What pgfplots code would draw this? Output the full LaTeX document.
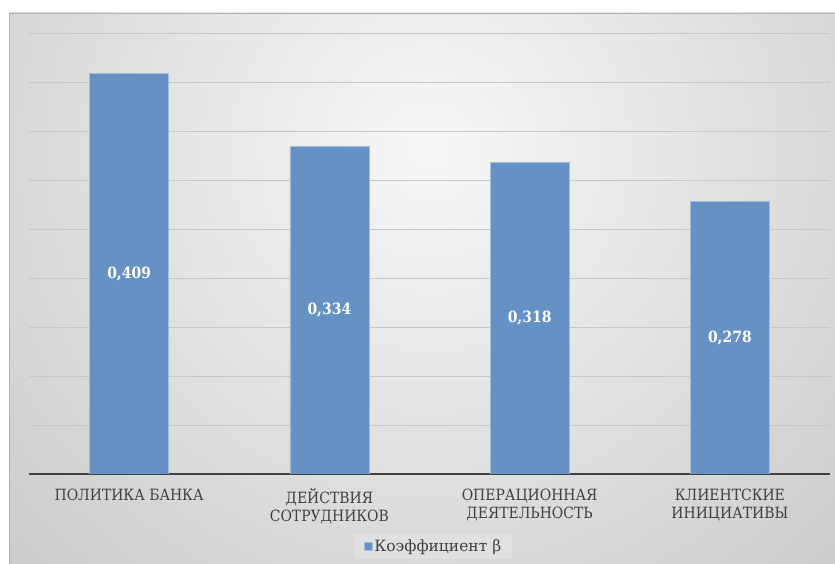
\documentclass[border=0pt]{standalone}
\usepackage{fontspec}
\setmainfont{Liberation Serif}
\newfontfamily\tnr[FakeStretch=0.9]{DejaVu Serif}
\newfontfamily\tnrl{DejaVu Serif}
\usepackage{pgfplots}
\pgfplotsset{compat=1.18}
\definecolor{barblue}{RGB}{102,145,197}
\definecolor{labelgray}{RGB}{64,64,64}
\begin{document}
\begin{tikzpicture}[x=1pt,y=1pt,font=\tnr]
\useasboundingbox (0,0) rectangle (835,564);
\fill[white] (0,0) rectangle (835,564);
\begin{scope}
\clip (9,0) rectangle (835,551);
\fill[black!22] (9,0) rectangle (835,551);
\shade[inner color=white!97!black, outer color=black!22] (430,414) circle (650);
\end{scope}
\draw[black!30] (9,0) -- (9,551) -- (835,551);
\begin{axis}[
  at={(29pt,90pt)}, anchor=south west,
  scale only axis, width=801pt, height=441pt,
  xmin=-0.5, xmax=3.5, ymin=0, ymax=0.45,
  ybar, bar width=79pt,
  separate axis lines,
  axis x line*=bottom, axis y line*=left,
  every outer x axis line/.append style={-},
  every outer y axis line/.append style={-},
  y axis line style={draw=none},
  x axis line style={-, draw=labelgray, line width=1.6pt},
  xtick={0,1,2,3},
  xticklabels={ПОЛИТИКА БАНКА, ДЕЙСТВИЯ\\СОТРУДНИКОВ, ОПЕРАЦИОННАЯ\\ДЕЯТЕЛЬНОСТЬ, КЛИЕНТСКИЕ\\ИНИЦИАТИВЫ},
  ytick={0.05,0.1,0.15,0.2,0.25,0.3,0.35,0.4,0.45},
  yticklabels={},
  major tick length=0pt,
  ymajorgrids, grid style={black!22, line width=0.9pt},
  xticklabel style={align=center, font=\tnr\fontsize{15.5}{18}\selectfont, text=labelgray, yshift=-11pt},
  nodes near coords,
  visualization depends on={y \as \rawy},
  every node near coord/.append style={anchor=center, shift={(axis direction cs:0,-\rawy/2)},
     font=\tnr\bfseries\fontsize{15.5}{16}\selectfont, text=white},
  /pgf/number format/.cd, fixed, fixed zerofill, precision=3, use comma, assume math mode=true,
  /pgfplots/.cd,
  legend style={at={(0.505,-0.164)}, anchor=center, fill=black!12, draw=none,
     font=\tnrl\fontsize{15.5}{18}\selectfont, text=labelgray, inner xsep=9pt, inner ysep=4pt},
  legend image code/.code={\fill[#1,/tikz/.cd] (0pt,-4pt) rectangle (8pt,4pt);},
]
\addplot[fill=barblue, draw=barblue!60!white, line width=0.6pt] coordinates {(0,0.409) (1,0.334) (2,0.318) (3,0.278)};
\addlegendentry{Коэффициент β}
\end{axis}
\end{tikzpicture}
\end{document}
